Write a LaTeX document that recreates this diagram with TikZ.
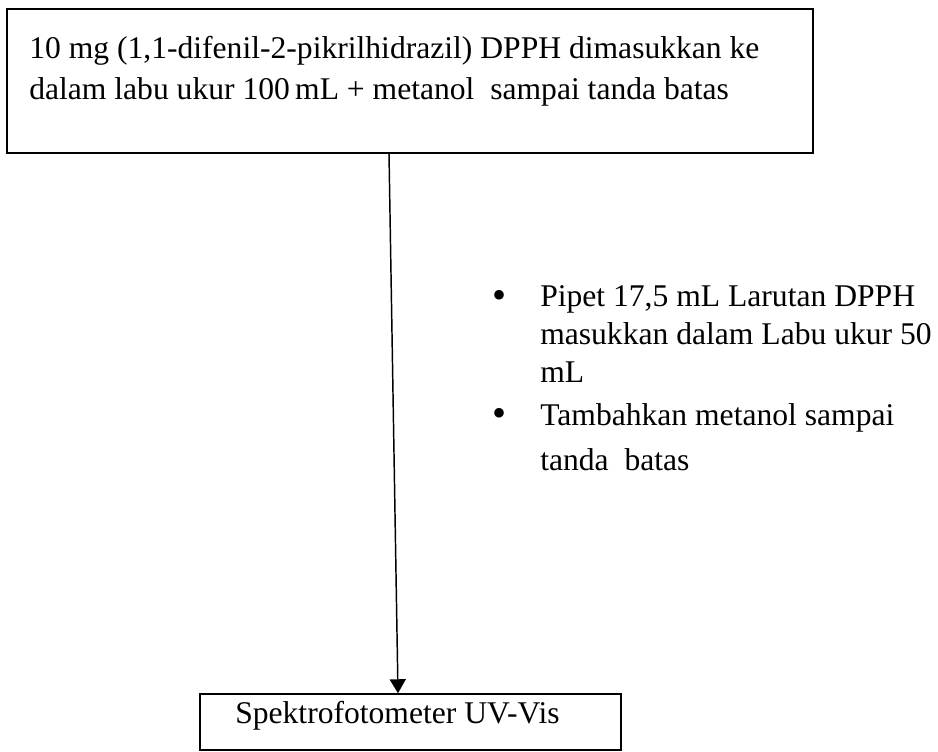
\documentclass[tikz,border=0pt]{standalone}
\usepackage{fontspec}
\setmainfont{Liberation Serif}
\usetikzlibrary{positioning,calc,arrows.meta}

\begin{document}
\begin{tikzpicture}[x=0.75pt,y=-0.75pt,
        box/.style={draw,line width=1.1pt,inner sep=0pt},
        txt/.style={inner sep=0pt,align=left,font=\fontsize{23.7}{30.75}\selectfont},
        dot/.style={inner sep=0pt,anchor=base west,font=\fontsize{30}{30}\selectfont}]
        \clip (0,0) rectangle (938,752);
        \node[box,minimum width=604.5pt,minimum height=108pt] (dpph) at (410,81) {};
        \node[txt,anchor=north west] (dpphtxt) at (29,36) {10 mg (1,1-difenil-2-pikrilhidrazil) DPPH dimasukkan ke\\dalam labu ukur 100\,mL + metanol\ \ sampai tanda batas};
        \node[box,minimum width=315.75pt,minimum height=42pt] (uvvis) at (410.5,722) {};
        \node[txt,anchor=base west] (uvvistxt) at (235,723) {Spektrofotometer UV-Vis};
        % langkah pengenceran
        \node[dot] (b1) at (492,308) {\textbullet};
        \node[txt,anchor=north west,font=\fontsize{23.7}{28.5}\selectfont] (pipet) at (540,285.5) {Pipet 17,5 mL Larutan DPPH\\masukkan dalam Labu ukur 50\\mL};
        \node[dot] (b2) at (492,426) {\textbullet};
        \node[txt,anchor=north west,font=\fontsize{23.7}{33.75}\selectfont] (tambah) at (540,403.5) {Tambahkan metanol sampai\\tanda\ \ batas};
        \draw[line width=1.1pt,-{Triangle[length=10.5pt,width=12pt]}] ($(dpph.south)+(-21,0)$) -- ($(uvvis.north)+(-12.5,0)$);
    \end{tikzpicture}
\end{document}
